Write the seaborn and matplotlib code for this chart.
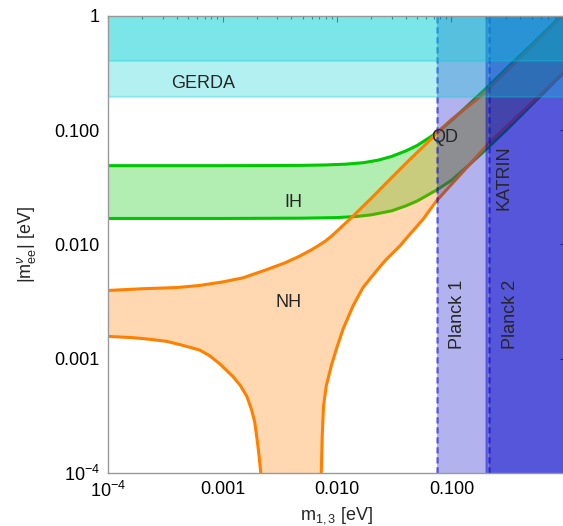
import matplotlib
matplotlib.use("Agg")
import numpy as np
import matplotlib.pyplot as plt
import matplotlib.ticker as mticker
import seaborn as sns

# Estilo
sns.set_theme(style="white")
plt.rcParams['font.family'] = ['Liberation Sans', 'DejaVu Sans']
plt.rcParams['mathtext.fontset'] = 'custom'
plt.rcParams['mathtext.rm'] = 'Liberation Sans'
plt.rcParams['mathtext.it'] = 'Liberation Sans:italic'
plt.rcParams['mathtext.bf'] = 'Liberation Sans:bold'

# Dados (massa mais leve em eV -> |m_ee| em eV)
ih_up_m = [1e-4, 1e-3, 3e-3, 5e-3, 0.008, 0.012, 0.017, 0.023, 0.03, 0.04, 0.05, 0.065,
           0.08, 0.1, 0.14, 0.2, 0.3, 0.5, 1.0]
ih_up = [0.049, 0.049, 0.0491, 0.0493, 0.0497, 0.0505, 0.052, 0.0548, 0.059, 0.066, 0.0735,
         0.087, 0.101, 0.122, 0.166, 0.232, 0.345, 0.56, 1.1]

ih_lo_m = [1e-4, 1e-3, 5e-3, 0.01, 0.015, 0.02, 0.03, 0.04, 0.05, 0.06, 0.075, 0.1, 0.14,
           0.2, 0.3, 0.5, 1.0]
ih_lo = [0.0169, 0.0169, 0.0170, 0.0172, 0.0176, 0.0182, 0.0197, 0.0218, 0.0240, 0.0266,
         0.0302, 0.0365, 0.049, 0.068, 0.10, 0.167, 0.335]

nh_up_m = [1e-4, 2e-4, 4e-4, 6.3e-4, 1e-3, 1.5e-3, 2.4e-3, 3.5e-3, 4.7e-3, 6e-3, 7e-3, 8e-3,
           9e-3, 0.01, 0.0137, 0.02, 0.03, 0.043, 0.06, 0.075, 0.1, 0.186, 0.5, 1.0]
nh_up = [0.00396, 0.0041, 0.0042, 0.00438, 0.0047, 0.0051, 0.0060, 0.0069, 0.0079, 0.0090,
         0.0099, 0.0108, 0.0119, 0.0131, 0.0176, 0.0255, 0.0385, 0.0552, 0.076, 0.095, 0.124,
         0.204, 0.54, 1.07]

nh_lo_left_m = [1e-4, 1.65e-4, 2.32e-4, 3.25e-4, 4.5e-4, 6.34e-4, 7.75e-4, 9.5e-4, 1.23e-3,
                1.42e-3, 1.63e-3, 1.79e-3, 1.91e-3, 2.0e-3, 2.07e-3, 2.16e-3, 2.21e-3]
nh_lo_left = [1.57e-3, 1.53e-3, 1.48e-3, 1.42e-3, 1.31e-3, 1.19e-3, 1.06e-3, 9.0e-4, 7.0e-4,
              5.9e-4, 4.7e-4, 3.6e-4, 2.8e-4, 2.0e-4, 1.52e-4, 1.0e-4, 3e-5]

nh_lo_right_m = [7.25e-3, 7.29e-3, 7.43e-3, 7.63e-3, 8.06e-3, 8.91e-3, 9.86e-3, 0.01127,
                 0.01377, 0.01683, 0.022, 0.0269, 0.0352, 0.043, 0.0561, 0.0734, 0.214,
                 0.873, 1.0]
nh_lo_right = [3e-5, 1.0e-4, 2.12e-4, 3.87e-4, 5.79e-4, 8.66e-4, 1.21e-3, 1.81e-3, 2.89e-3,
               4.19e-3, 5.85e-3, 7.4e-3, 9.66e-3, 0.0122, 0.0165, 0.0239, 0.0778, 0.293, 0.335]

# Limites experimentais
gerda_lo = [0.196, 0.404]
planck1 = 0.0753
katrin = 0.2
planck2 = 0.214

xticks = [1e-4, 1e-3, 1e-2, 1e-1, 1]
xtick_labels = ['$10^{-4}$', '0.001', '0.010', '0.100', '']
yticks = [1e-4, 1e-3, 1e-2, 1e-1, 1]
ytick_labels = ['$10^{-4}$', '0.001', '0.010', '0.100', '1']

orange = '#ff8000'
green = '#00c800'
blue = '#0000c8'
cyan = '#00ced1'

fig = plt.figure(figsize=(5.63, 5.26), dpi=100)
ax = fig.add_axes([108 / 563, 53 / 526, 458 / 563, 457 / 526])
ax.set_xscale('log')
ax.set_yscale('log')

# Banda IH
ax.fill(ih_up_m + ih_lo_m[::-1], ih_up + ih_lo[::-1], color=green, alpha=0.3, lw=0, zorder=1.0)
sns.lineplot(x=ih_up_m, y=ih_up, ax=ax, color=green, lw=2.2, estimator=None, zorder=1.1)
sns.lineplot(x=ih_lo_m, y=ih_lo, ax=ax, color=green, lw=2.2, estimator=None, zorder=1.1)

# Banda NH
nh_x = nh_up_m + nh_lo_right_m[::-1] + nh_lo_left_m[::-1]
nh_y = nh_up + nh_lo_right[::-1] + nh_lo_left[::-1]
ax.fill(nh_x, nh_y, color=orange, alpha=0.3, lw=0, zorder=1.2)
sns.lineplot(x=nh_up_m, y=nh_up, ax=ax, color=orange, lw=2.2, estimator=None, zorder=1.3)
sns.lineplot(x=nh_lo_left_m, y=nh_lo_left, ax=ax, color=orange, lw=2.2, estimator=None, zorder=1.3)
sns.lineplot(x=nh_lo_right_m, y=nh_lo_right, ax=ax, color=orange, lw=2.2, estimator=None, zorder=1.3)

# Planck e KATRIN
for x0 in [planck1, katrin, planck2]:
    ax.axvspan(x0, 10, color=blue, alpha=0.3, lw=0, zorder=1.5)
ax.axvline(planck1, color=blue, alpha=0.5, lw=1.8, ls=(0, (2.5, 1.5)), zorder=1.6)
ax.axvline(planck2, color=blue, alpha=0.5, lw=1.8, ls=(0, (2.5, 1.5)), zorder=1.6)
ax.axvline(katrin, color=blue, alpha=0.3, lw=1.8, zorder=1.6)

# GERDA
for y0 in gerda_lo:
    ax.axhspan(y0, 10, color=cyan, alpha=0.3, lw=0, zorder=1.8)
    ax.axhline(y0, color=cyan, alpha=0.25, lw=1.6, zorder=1.9)

# Rótulos
ax.text(6.73e-4, 0.255, 'GERDA', fontsize=13, ha='center', va='center', zorder=3)
ax.text(0.0867, 0.086, 'QD', fontsize=13, ha='center', va='center', zorder=3)
ax.text(4.19e-3, 0.0233, 'IH', fontsize=13, ha='center', va='center', zorder=3)
ax.text(3.79e-3, 3.11e-3, 'NH', fontsize=13, ha='center', va='center', zorder=3)
ax.text(0.1125, 2.45e-3, 'Planck 1', fontsize=13, rotation=90, ha='center', va='center', zorder=3)
ax.text(0.327, 2.45e-3, 'Planck 2', fontsize=13, rotation=90, ha='center', va='center', zorder=3)
ax.text(0.289, 0.0385, 'KATRIN', fontsize=13, rotation=90, ha='center', va='center', zorder=3)

ax.set_xlim(1e-4, 1)
ax.set_ylim(1e-4, 1)
ax.set_xticks(xticks, labels=xtick_labels)
ax.set_yticks(yticks, labels=ytick_labels)
for axis in [ax.xaxis, ax.yaxis]:
    axis.set_minor_locator(mticker.LogLocator(base=10, subs=np.arange(2, 10), numticks=20))
    axis.set_minor_formatter(mticker.NullFormatter())
ax.tick_params(which='both', direction='in', top=True, right=True, color='#555555', width=0.8)
ax.tick_params(which='major', length=4, labelsize=13, pad=6, labelcolor='black')
ax.tick_params(which='minor', length=2)
for s in ax.spines.values():
    s.set_color('#999999')
    s.set_linewidth(1.0)
    s.set_zorder(2.5)

ax.set_xlabel(r'$\mathrm{m}_{1,3}$ [eV]', fontsize=13, labelpad=3)
ax.set_ylabel(r'$|\mathrm{m}^{\nu}_{\mathrm{ee}}|$ [eV]', fontsize=13, labelpad=12)

fig.savefig('out.png', dpi=100)
